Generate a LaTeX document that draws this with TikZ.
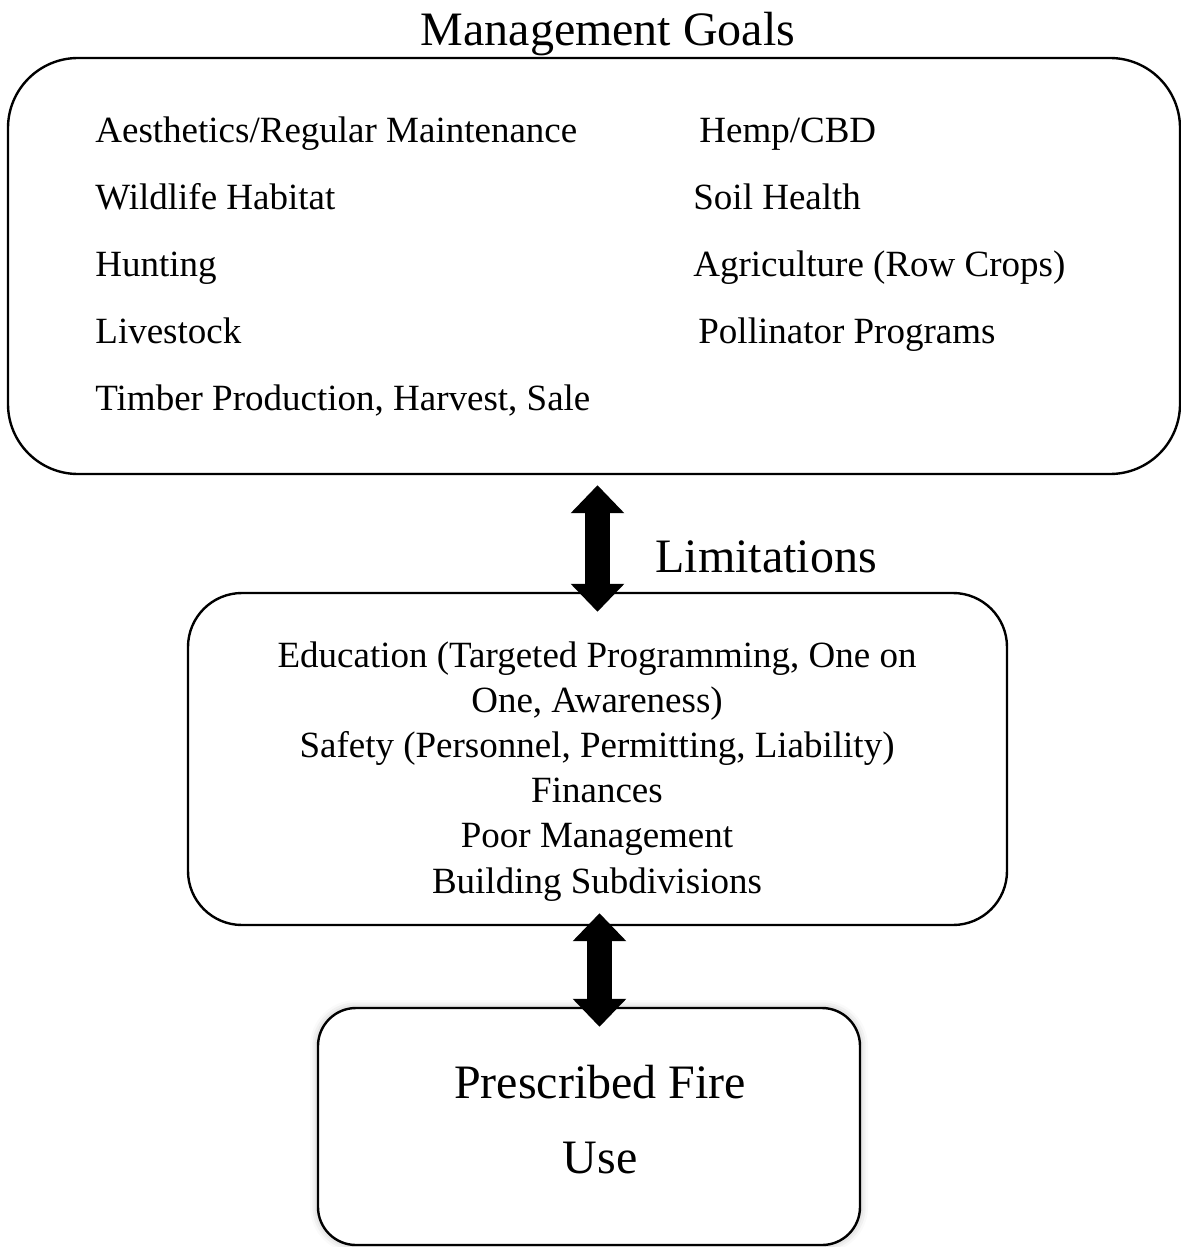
\documentclass[tikz,border=0pt]{standalone}
\usepackage{fontspec}
\setmainfont{Liberation Serif}
\usetikzlibrary{arrows.meta,calc,shadows.blur}

\tikzset{
  box/.style={draw, line width=1.2pt, anchor=center, inner sep=0pt},
  item/.style={anchor=base west, inner sep=0pt, font=\fontsize{18.5}{22}\selectfont},
  limit/.style={anchor=base, inner sep=0pt, font=\fontsize{18.5}{22}\selectfont},
  heading/.style={anchor=base, inner sep=0pt, font=\fontsize{24}{28}\selectfont},
  dblarrow/.style={line width=12.5pt, {Triangle[width=26pt,length=14pt]}-{Triangle[width=26pt,length=14pt]}}
}

\begin{document}
\begin{tikzpicture}[x=0.5pt, y=-0.5pt]
\useasboundingbox (0,0) rectangle (1181,1247);
%boxes
\node[box, rounded corners=35pt, minimum width=586pt, minimum height=208pt] (goals) at (594,266) {};
\node[box, rounded corners=27pt, minimum width=409.5pt, minimum height=166pt] (limits) at (597.5,759) {};
\node[box, rounded corners=19pt, minimum width=271pt, minimum height=118.5pt, fill=white,
  blur shadow={shadow xshift=0pt, shadow yshift=0pt, shadow blur radius=4pt, shadow opacity=30}] (fire) at (589,1126.5) {};

%headings
\node[heading] (goalstitle) at (608,46) {Management Goals};
\node[heading] (limitstitle) at (766,572) {Limitations};
\node[heading] (firetitle) at (600,1098) {Prescribed Fire};
\node[heading] (fireuse) at (600,1173) {Use};

%goals, left column
\node[item] (g1) at (95,142) {Aesthetics/Regular Maintenance};
\node[item] (g2) at (95,209) {Wildlife Habitat};
\node[item] (g3) at (95,276) {Hunting};
\node[item] (g4) at (95,343) {Livestock};
\node[item] (g5) at (95,410) {Timber Production, Harvest, Sale};
%goals, right column
\node[item] (g6) at (699,142) {Hemp/CBD};
\node[item] (g7) at (693,209) {Soil Health};
\node[item] (g8) at (693,276) {Agriculture (Row Crops)};
\node[item] (g9) at (698,343) {Pollinator Programs};

%limitations
\node[limit] (l1) at (597,667) {Education (Targeted Programming, One on};
\node[limit] (l2) at (597,712) {One, Awareness)};
\node[limit] (l3) at (597,757) {Safety (Personnel, Permitting, Liability)};
\node[limit] (l4) at (597,802) {Finances};
\node[limit] (l5) at (597,847) {Poor Management};
\node[limit] (l6) at (597,893) {Building Subdivisions};

%arrows
\draw[dblarrow] ($(goals.south -| limits.north)+(0,10)$) -- ($(limits.north)+(0,20)$);
\draw[dblarrow] ($(limits.south)+(2,-13)$) -- ($(limits.south |- fire.north)+(2,20)$);

\end{tikzpicture}
\end{document}
